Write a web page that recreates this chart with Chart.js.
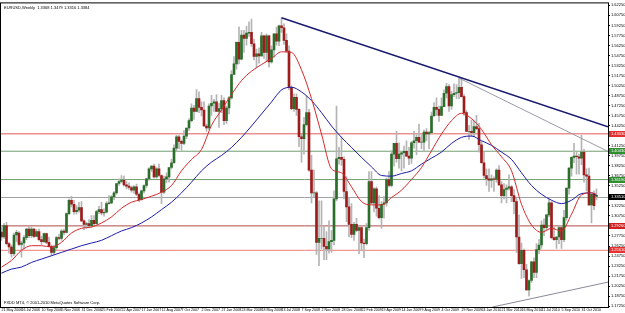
<!DOCTYPE html>
<html>
<head>
<meta charset="utf-8">
<script src="https://cdn.jsdelivr.net/npm/chart.js@4.4.1/dist/chart.umd.min.js"></script>
<style>
  html, body { margin: 0; padding: 0; background: #fff; }
  canvas { display: block; }
</style>
</head>
<body>
<canvas id="chart" width="625" height="313"></canvas>
<script>
// EURUSD weekly, one bar per week starting 21 May 2006
const tickDates = ["21 May 2006", "16 Jul 2006", "10 Sep 2006", "5 Nov 2006", "31 Dec 2006", "25 Feb 2007",
  "22 Apr 2007", "17 Jun 2007", "12 Aug 2007", "7 Oct 2007", "2 Dec 2007", "27 Jan 2008", "23 Mar 2008",
  "18 May 2008", "13 Jul 2008", "7 Sep 2008", "2 Nov 2008", "28 Dec 2008", "22 Feb 2009", "19 Apr 2009",
  "14 Jun 2009", "9 Aug 2009", "4 Oct 2009", "29 Nov 2009", "24 Jan 2010", "21 Mar 2010", "16 May 2010",
  "11 Jul 2010", "5 Sep 2010", "31 Oct 2010"];

const opens = [1.2835,1.2760,1.2930,1.2660,1.2610,1.2510,1.2790,1.2820,1.2650,1.2670,1.2750,1.2880,1.2780,1.2880,1.2770,1.2840,1.2720,1.2690,1.2810,1.2680,
  1.2620,1.2530,1.2600,1.2750,1.2740,1.2850,1.2830,1.3110,1.3310,1.3250,1.3140,1.3160,1.3200,1.3000,1.2950,1.2960,1.2930,1.3010,1.2960,1.3140,
  1.3170,1.3120,1.3130,1.3260,1.3270,1.3360,1.3420,1.3560,1.3590,1.3610,1.3540,1.3520,1.3500,1.3460,1.3510,1.3400,1.3320,1.3450,1.3530,1.3630,
  1.3780,1.3820,1.3660,1.3780,1.3680,1.3430,1.3630,1.3660,1.3800,1.3870,1.4090,1.4260,1.4190,1.4160,1.4270,1.4390,1.4500,1.4690,1.4640,1.4830,
  1.4700,1.4660,1.4420,1.4390,1.4720,1.4760,1.4780,1.4640,1.4680,1.4800,1.4500,1.4690,1.4840,1.5190,1.5350,1.5670,1.5420,1.5780,1.5730,1.5810,
  1.5820,1.5650,1.5460,1.5500,1.5470,1.5770,1.5520,1.5770,1.5380,1.5560,1.5800,1.5690,1.5920,1.5890,1.5700,1.5540,1.5000,1.4680,1.4850,1.4670,
  1.4260,1.4230,1.4440,1.4620,1.3760,1.3420,1.3420,1.2680,1.2740,1.2740,1.2620,1.2580,1.2690,1.2710,1.3330,1.3930,1.3950,1.3920,1.3440,1.3210,
  1.2950,1.2800,1.2950,1.2860,1.2900,1.2670,1.2660,1.2900,1.3590,1.3270,1.3480,1.3190,1.3050,1.3250,1.3270,1.3620,1.3530,1.4000,1.4160,1.3930,
  1.4000,1.4020,1.4040,1.3970,1.3940,1.4170,1.4200,1.4250,1.4180,1.4180,1.4330,1.4300,1.4320,1.4570,1.4700,1.4670,1.4580,1.4710,1.4910,1.5010,
  1.4720,1.4890,1.4910,1.4920,1.5000,1.4860,1.4620,1.4340,1.4340,1.4320,1.4410,1.4380,1.4140,1.3870,1.3680,1.3630,1.3610,1.3630,1.3620,1.3760,
  1.3540,1.3380,1.3470,1.3490,1.3510,1.3380,1.3290,1.2760,1.2360,1.2560,1.2270,1.1970,1.2110,1.2390,1.2230,1.2570,1.2640,1.2940,1.2900,1.3090,
  1.3270,1.2750,1.2720,1.2760,1.2900,1.2720,1.3050,1.3490,1.3790,1.3950,1.3970,1.3960,1.3940,1.4030,1.3690,1.3670,1.3240,1.3400,1.3368];
const highs = [1.2905,1.2960,1.2980,1.2680,1.2640,1.2820,1.2860,1.2840,1.2700,1.2780,1.2890,1.2920,1.2910,1.2890,1.2870,1.2880,1.2770,1.2820,1.2820,1.2760,
  1.2640,1.2640,1.2770,1.2800,1.2870,1.2880,1.3120,1.3330,1.3367,1.3310,1.3230,1.3280,1.3290,1.3020,1.2980,1.3020,1.3080,1.3080,1.3160,1.3220,
  1.3280,1.3180,1.3290,1.3380,1.3380,1.3440,1.3560,1.3630,1.3680,1.3670,1.3590,1.3570,1.3520,1.3530,1.3550,1.3420,1.3460,1.3540,1.3640,1.3800,
  1.3830,1.3850,1.3800,1.3850,1.3690,1.3670,1.3720,1.3800,1.3920,1.4140,1.4280,1.4280,1.4210,1.4350,1.4390,1.4530,1.4750,1.4730,1.4966,1.4930,
  1.4780,1.4780,1.4450,1.4750,1.4880,1.4820,1.4890,1.4760,1.4880,1.4840,1.4720,1.4860,1.5250,1.5460,1.5680,1.5905,1.5850,1.5850,1.5910,1.5980,
  1.6018,1.5720,1.5570,1.5590,1.5820,1.5780,1.5800,1.5780,1.5620,1.5800,1.5900,1.5930,1.6038,1.5950,1.5800,1.5620,1.5020,1.4900,1.4900,1.4680,
  1.4300,1.4550,1.4870,1.4670,1.3980,1.3760,1.3440,1.3300,1.3300,1.2930,1.2840,1.3000,1.2860,1.3450,1.4720,1.4100,1.4260,1.3960,1.3660,1.3350,
  1.3260,1.2980,1.3040,1.2930,1.2930,1.2730,1.2960,1.3740,1.3740,1.3500,1.3510,1.3380,1.3290,1.3370,1.3640,1.3740,1.4050,1.4160,1.4340,1.4170,
  1.4040,1.4120,1.4200,1.4100,1.4190,1.4340,1.4290,1.4450,1.4290,1.4360,1.4380,1.4340,1.4630,1.4770,1.4840,1.4720,1.4840,1.4960,1.5060,1.5040,
  1.4940,1.5050,1.5040,1.5145,1.5140,1.4890,1.4650,1.4430,1.4510,1.4500,1.4580,1.4460,1.4190,1.4030,1.3780,1.3780,1.3690,1.3660,1.3780,1.3830,
  1.3590,1.3560,1.3540,1.3690,1.3530,1.3470,1.3340,1.3090,1.2670,1.2580,1.2350,1.2120,1.2400,1.2450,1.2660,1.2720,1.3000,1.3030,1.3100,1.3330,
  1.3290,1.2910,1.2770,1.2930,1.2930,1.3160,1.3490,1.3800,1.3960,1.4160,1.4030,1.4000,1.4282,1.4070,1.3780,1.3790,1.3400,1.3450,1.3479];
const lows = [1.2710,1.2740,1.2640,1.2520,1.2460,1.2480,1.2690,1.2630,1.2460,1.2580,1.2720,1.2750,1.2750,1.2750,1.2760,1.2700,1.2650,1.2680,1.2660,1.2610,
  1.2480,1.2500,1.2570,1.2720,1.2710,1.2790,1.2820,1.3090,1.3210,1.3100,1.3100,1.3130,1.2990,1.2870,1.2890,1.2900,1.2900,1.2940,1.2950,1.3110,
  1.3090,1.3070,1.3120,1.3250,1.3260,1.3320,1.3400,1.3530,1.3570,1.3520,1.3480,1.3470,1.3430,1.3410,1.3380,1.3290,1.3310,1.3420,1.3500,1.3610,
  1.3740,1.3640,1.3640,1.3660,1.3260,1.3410,1.3570,1.3580,1.3780,1.3860,1.4050,1.4080,1.4060,1.4140,1.4230,1.4350,1.4480,1.4520,1.4630,1.4620,
  1.4570,1.4410,1.4340,1.4370,1.4580,1.4640,1.4640,1.4400,1.4620,1.4440,1.4460,1.4600,1.4820,1.5190,1.5270,1.5350,1.5410,1.5520,1.5630,1.5760,
  1.5610,1.5410,1.5290,1.5360,1.5460,1.5430,1.5390,1.5300,1.5360,1.5450,1.5630,1.5620,1.5820,1.5640,1.5520,1.4960,1.4660,1.4640,1.4580,1.4110,
  1.3880,1.4000,1.4420,1.3740,1.3270,1.3360,1.2500,1.2330,1.2580,1.2420,1.2420,1.2520,1.2530,1.2640,1.3300,1.3850,1.3830,1.3330,1.2990,1.2760,
  1.2750,1.2710,1.2840,1.2510,1.2550,1.2450,1.2640,1.2860,1.3250,1.3140,1.3070,1.3030,1.2890,1.3040,1.3220,1.3510,1.3510,1.3820,1.3880,1.3790,
  1.3750,1.3790,1.3960,1.3840,1.3860,1.4090,1.3990,1.4170,1.4080,1.4040,1.4200,1.4080,1.4300,1.4570,1.4580,1.4490,1.4580,1.4710,1.4840,1.4640,
  1.4670,1.4860,1.4830,1.4830,1.4850,1.4580,1.4340,1.4220,1.4260,1.4260,1.4360,1.4030,1.3860,1.3640,1.3530,1.3440,1.3500,1.3440,1.3580,1.3530,
  1.3270,1.3330,1.3270,1.3460,1.3290,1.3110,1.2530,1.2350,1.2140,1.2150,1.1960,1.1876,1.2080,1.2150,1.2150,1.2510,1.2590,1.2780,1.2850,1.3060,
  1.2730,1.2710,1.2590,1.2660,1.2590,1.2690,1.3010,1.3400,1.3670,1.3870,1.3700,1.3700,1.3840,1.3580,1.3450,1.3230,1.2969,1.3170,1.3316];
const closes = [1.2760,1.2930,1.2660,1.2610,1.2510,1.2790,1.2830,1.2650,1.2670,1.2750,1.2880,1.2780,1.2880,1.2770,1.2840,1.2720,1.2690,1.2810,1.2680,1.2620,
  1.2530,1.2600,1.2750,1.2740,1.2850,1.2830,1.3110,1.3310,1.3250,1.3140,1.3160,1.3200,1.3000,1.2950,1.2960,1.2930,1.3010,1.2960,1.3140,1.3170,
  1.3120,1.3130,1.3260,1.3270,1.3360,1.3420,1.3560,1.3590,1.3610,1.3540,1.3520,1.3500,1.3460,1.3510,1.3400,1.3320,1.3450,1.3530,1.3630,1.3780,
  1.3820,1.3660,1.3780,1.3680,1.3430,1.3630,1.3660,1.3800,1.3870,1.4090,1.4260,1.4190,1.4160,1.4270,1.4390,1.4500,1.4690,1.4640,1.4830,1.4700,
  1.4660,1.4420,1.4390,1.4720,1.4760,1.4780,1.4640,1.4680,1.4800,1.4500,1.4690,1.4840,1.5190,1.5350,1.5670,1.5420,1.5780,1.5730,1.5810,1.5820,
  1.5650,1.5460,1.5500,1.5470,1.5770,1.5520,1.5770,1.5380,1.5560,1.5800,1.5690,1.5920,1.5890,1.5700,1.5540,1.5000,1.4680,1.4850,1.4670,1.4260,
  1.4230,1.4440,1.4620,1.3760,1.3420,1.3420,1.2680,1.2740,1.2740,1.2620,1.2580,1.2690,1.2710,1.3330,1.3930,1.3950,1.3920,1.3440,1.3210,1.2950,
  1.2800,1.2950,1.2860,1.2900,1.2670,1.2660,1.2900,1.3590,1.3270,1.3480,1.3190,1.3050,1.3250,1.3270,1.3620,1.3530,1.4000,1.4160,1.3930,1.4000,
  1.4020,1.4040,1.3970,1.3940,1.4170,1.4200,1.4250,1.4180,1.4180,1.4330,1.4300,1.4320,1.4570,1.4700,1.4670,1.4580,1.4710,1.4910,1.5010,1.4720,
  1.4890,1.4910,1.4920,1.5000,1.4860,1.4620,1.4340,1.4340,1.4320,1.4410,1.4380,1.4140,1.3870,1.3680,1.3630,1.3610,1.3630,1.3620,1.3760,1.3540,
  1.3380,1.3470,1.3490,1.3510,1.3380,1.3290,1.2760,1.2360,1.2560,1.2270,1.1970,1.2110,1.2390,1.2230,1.2570,1.2640,1.2940,1.2900,1.3090,1.3270,
  1.2750,1.2720,1.2760,1.2900,1.2720,1.3050,1.3490,1.3790,1.3950,1.3970,1.3960,1.3940,1.4030,1.3690,1.3670,1.3240,1.3400,1.3230,1.3384];

const maWeeks = [0,4,8,12,16,20,24,28,32,36,40,44,48,52,56,60,64,68,72,76,80,84,88,92,96,100,104,108,112,116,
  120,124,128,132,136,140,144,148,152,156,160,164,168,172,176,180,184,188,192,196,200,204,208,212,216,220,224,228,232,236,238];
const maRed = [1.231,1.241,1.256,1.263,1.263,1.261,1.268,1.282,1.289,1.291,1.297,1.306,1.319,1.328,1.332,1.337,1.343,1.353,1.375,1.392,
  1.407,1.443,1.466,1.489,1.510,1.524,1.534,1.543,1.553,1.552,1.526,1.483,1.430,1.378,1.372,1.351,1.329,1.324,1.324,1.335,
  1.346,1.362,1.380,1.405,1.430,1.450,1.461,1.453,1.437,1.414,1.396,1.375,1.325,1.294,1.283,1.289,1.285,1.310,1.339,1.342,1.340];
const maBlue = [1.222,1.228,1.231,1.238,1.243,1.248,1.253,1.258,1.263,1.267,1.271,1.278,1.285,1.290,1.297,1.306,1.317,1.328,1.342,1.358,
  1.375,1.388,1.398,1.410,1.425,1.442,1.460,1.478,1.496,1.500,1.493,1.480,1.462,1.442,1.425,1.410,1.395,1.381,1.368,1.367,
  1.371,1.375,1.385,1.394,1.403,1.416,1.425,1.427,1.420,1.413,1.403,1.392,1.372,1.353,1.340,1.331,1.326,1.331,1.341,1.342,1.338];

// horizontal levels and trend lines
const levelPrices = [1.4303, 1.4043, 1.3619, 1.3351, 1.2926, 1.2561];
const levelColors = ["#e05a5a", "#6f9f6f", "#6f9f6f", "#a0a0a0", "#b04a4a", "#f07a7a"];
const levelTags = ["#e03030", "#2f8f2f", "#2f8f2f", "#000000", "#d02020", "#e83030"];
const trendTop = [[112, 1.6038], [242.6, 1.4408]];
const trendMid = [[183, 1.5137], [242.6, 1.4040]];
const trendLow = [[196.4, 1.1713], [242.6, 1.2085]];

const yTicks = [];
for (let k = 0; k <= 30; k++) yTicks.push(+(1.1725 + k * 0.015).toFixed(4));

const X_MIN = -0.2, X_MAX = 242.6;
const FONT = "'Liberation Sans Narrow', 'Liberation Sans', Arial, sans-serif";

const pts = arr => arr.map(p => ({ x: p[0], y: p[1] }));
const bodies = closes.map((c, i) => ({ x: i, y: [opens[i], c] }));
const wicks = highs.map((h, i) => ({ x: i, y: [lows[i], h] }));

const datasets = [
  { type: "line", data: maWeeks.map((w, i) => ({ x: w, y: maRed[i] })), borderColor: "#d42a2a", borderWidth: 1,
    pointRadius: 0, cubicInterpolationMode: "monotone", order: 0 },
  { type: "line", data: maWeeks.map((w, i) => ({ x: w, y: maBlue[i] })), borderColor: "#1c1ca8", borderWidth: 1,
    pointRadius: 0, cubicInterpolationMode: "monotone", order: 0 },
  { type: "line", data: pts(trendTop), borderColor: "#1a1a70", borderWidth: 1.6, pointRadius: 0, order: 0 },
  { type: "line", data: pts(trendMid), borderColor: "#9a9aa8", borderWidth: 1, pointRadius: 0, order: 0 },
  { type: "line", data: pts(trendLow), borderColor: "#8a8a9a", borderWidth: 1, pointRadius: 0, order: 0 },
  { type: "bar", data: bodies, barThickness: 2, grouped: false, order: 1,
    backgroundColor: ctx => closes[ctx.dataIndex] >= opens[ctx.dataIndex] ? "#2a6e2a" : "#9e1c1c" },
  { type: "bar", data: wicks, barThickness: 1, grouped: false, order: 2, backgroundColor: "#b4b4b4" }
];
levelPrices.forEach((v, k) => {
  datasets.push({ type: "line", data: [{ x: X_MIN, y: v }, { x: X_MAX, y: v }], borderColor: levelColors[k],
    borderWidth: 1, pointRadius: 0, order: 3 });
});

const overlay = {
  id: "overlay",
  afterDraw(chart) {
    const { ctx, chartArea: a, scales } = chart;
    ctx.save();
    ctx.strokeStyle = "#000";
    ctx.lineWidth = 1;
    ctx.strokeRect(a.left - 0.5, a.top - 0.5, a.right - a.left + 1, a.bottom - a.top + 1);
    ctx.font = "4px " + FONT;
    ctx.textBaseline = "middle";
    levelPrices.forEach((v, k) => {
      const py = Math.round(scales.y.getPixelForValue(v));
      ctx.fillStyle = levelTags[k];
      ctx.fillRect(a.right + 1, py - 3, 16, 6);
      ctx.fillStyle = "#fff";
      ctx.fillText(v.toFixed(5), a.right + 3, py);
    });
    ctx.fillStyle = "#000";
    ctx.textBaseline = "top";
    ctx.fillText("EURUSD,Weekly  1.3368 1.3479 1.3316 1.3384", a.left + 3, a.top + 2);
    ctx.fillText("FXDD MT4, © 2001-2010 MetaQuotes Software Corp.", a.left + 3, a.bottom - 6);
    ctx.restore();
  }
};

new Chart(document.getElementById("chart"), {
  type: "bar",
  data: { datasets },
  options: {
    responsive: false,
    animation: false,
    layout: { padding: { top: 2, left: 1, right: 0, bottom: 0 } },
    plugins: { legend: { display: false }, tooltip: { enabled: false } },
    scales: {
      x: {
        type: "linear", min: X_MIN, max: X_MAX, offset: false,
        afterBuildTicks: s => { s.ticks = tickDates.map((d, k) => ({ value: k * 8 })); },
        afterFit: s => { s.height = 6; },
        grid: { drawOnChartArea: false, offset: false, tickLength: 1, color: "#000" },
        border: { color: "#000" },
        ticks: { font: { size: 3.6, family: FONT }, color: "#000", align: "start", maxRotation: 0,
          autoSkip: false, padding: 0, callback: (v, k) => tickDates[k] }
      },
      y: {
        position: "right", min: 1.1713, max: 1.6254,
        afterBuildTicks: s => { s.ticks = yTicks.map(v => ({ value: v })); },
        afterFit: s => { s.width = 17; },
        grid: { drawOnChartArea: false, tickLength: 2, color: "#000" },
        border: { color: "#000" },
        ticks: { font: { size: 4, family: FONT }, color: "#000", padding: 1, autoSkip: false,
          callback: v => v.toFixed(5) }
      }
    }
  },
  plugins: [overlay]
});
</script>
</body>
</html>
